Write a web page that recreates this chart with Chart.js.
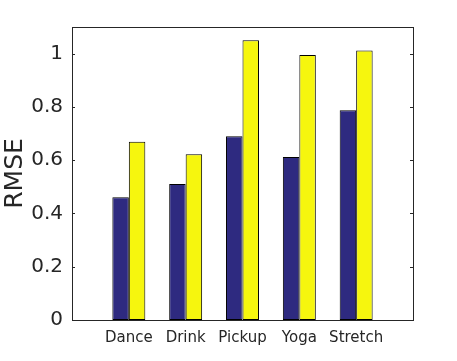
<!DOCTYPE html>
<html>
<head>
<meta charset="utf-8">
<script src="https://cdn.jsdelivr.net/npm/chart.js@4/dist/chart.umd.min.js"></script>
<style>
  html, body { margin: 0; padding: 0; background: #ffffff; }
  #wrap { width: 457px; height: 361px; }
</style>
</head>
<body>
<div id="wrap"><canvas id="c" width="457" height="361"></canvas></div>
<script>
const categories = ['Dance', 'Drink', 'Pickup', 'Yoga', 'Stretch'];
const seriesBlue = [0.461, 0.511, 0.690, 0.612, 0.787];
const seriesYellow = [0.669, 0.622, 1.050, 0.995, 1.012];
const yTicks = [0, 0.2, 0.4, 0.6, 0.8, 1];
const yTickLabels = ['0', '0.2', '0.4', '0.6', '0.8', '1'];
const yTitle = 'RMSE';

const AX = '#262626';

const boxPlugin = {
  id: 'boxPlugin',
  afterDatasetsDraw(chart) {
    const { ctx, chartArea: a, scales } = chart;
    const y = scales.y;
    ctx.save();
    ctx.strokeStyle = AX;
    ctx.lineWidth = 1;
    yTicks.forEach(v => {
      const py = Math.round(y.getPixelForValue(v)) + 0.5;
      ctx.beginPath();
      ctx.moveTo(a.left, py); ctx.lineTo(a.left + 3, py);
      ctx.moveTo(a.right, py); ctx.lineTo(a.right - 3, py);
      ctx.stroke();
    });
    ctx.strokeRect(Math.round(a.left) + 0.5, Math.round(a.top) + 0.5,
                   Math.round(a.right - a.left), Math.round(a.bottom - a.top));
    ctx.restore();
  }
};

const ctx = document.getElementById('c').getContext('2d');
new Chart(ctx, {
  type: 'bar',
  data: {
    datasets: [
      {
        data: seriesBlue.map((v, i) => ({ x: i + 1, y: v })),
        backgroundColor: '#2E2A80',
        borderColor: '#000000',
        borderWidth: 1,
        borderSkipped: false
      },
      {
        data: seriesYellow.map((v, i) => ({ x: i + 1, y: v })),
        backgroundColor: '#F6F60E',
        borderColor: '#000000',
        borderWidth: 1,
        borderSkipped: false
      }
    ]
  },
  options: {
    responsive: false,
    animation: false,
    devicePixelRatio: 1,
    layout: { padding: { top: 27, right: 44, left: 0, bottom: 0 } },
    barPercentage: 1,
    categoryPercentage: 0.58,
    plugins: {
      legend: { display: false },
      tooltip: { enabled: false }
    },
    scales: {
      x: {
        type: 'linear',
        min: 0,
        max: 6,
        offset: false,
        grid: { display: false, drawTicks: false },
        border: { display: false },
        afterBuildTicks: s => { s.ticks = categories.map((c, i) => ({ value: i + 1 })); },
        afterFit: s => { s.height = 41; },
        ticks: {
          autoSkip: false,
          maxRotation: 0,
          padding: 9,
          color: AX,
          font: { family: 'DejaVu Sans', size: 15 },
          callback: v => categories[v - 1] ?? ''
        }
      },
      y: {
        type: 'linear',
        min: 0,
        max: 1.1,
        grid: { display: false, drawTicks: false },
        border: { display: false },
        afterBuildTicks: s => { s.ticks = yTicks.map(v => ({ value: v })); },
        afterFit: s => { s.width = 72; },
        ticks: {
          padding: 9,
          color: AX,
          font: { family: 'DejaVu Sans', size: 20 },
          callback: (v) => yTickLabels[yTicks.indexOf(v)] ?? ''
        },
        title: {
          display: true,
          text: yTitle,
          color: AX,
          font: { family: 'DejaVu Sans', size: 25 },
          padding: { top: 0, bottom: 0 }
        }
      }
    }
  },
  plugins: [boxPlugin]
});
</script>
</body>
</html>
